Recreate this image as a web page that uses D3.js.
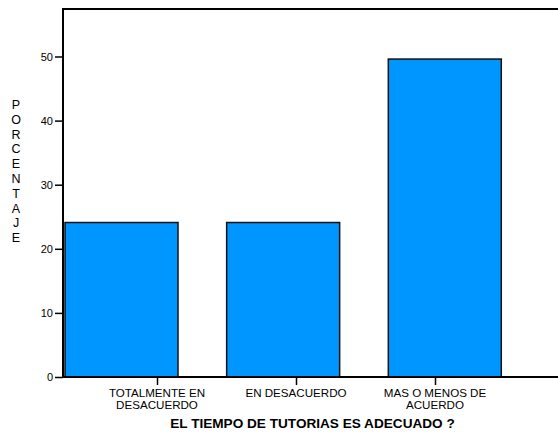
<!DOCTYPE html>
<html><head><meta charset="utf-8">
<script src="https://cdn.jsdelivr.net/npm/d3@7/dist/d3.min.js"></script>
<style>body{margin:0;background:#fff}svg{display:block}text{font-family:"Liberation Sans",Arial,sans-serif}</style>
</head><body><svg id="c" width="558" height="432"></svg>
<script>
const categories = ["TOTALMENTE EN DESACUERDO", "EN DESACUERDO", "MAS O MENOS DE ACUERDO"];
const labelLines = [["TOTALMENTE EN", "DESACUERDO"], ["EN DESACUERDO"], ["MAS O MENOS DE", "ACUERDO"]];
const values = [24.1, 24.1, 49.6];
const yTicks = [0, 10, 20, 30, 40, 50];
const yTitle = "PORCENTAJE";
const xTitle = "EL TIEMPO DE TUTORIAS ES ADECUADO ?";

const svg = d3.select("#c");
const L = 63, R = 558, T = 9, B = 377;
const y = d3.scaleLinear().domain([0, 10]).range([B, B - 64.1]);
const xb = d3.scaleBand().domain(categories).range([65, 501.3]).paddingInner(0.301).paddingOuter(0);
const xp = d3.scalePoint().domain(categories).range([157, 435]);

// bars
svg.selectAll("rect.bar").data(values).enter().append("rect")
  .attr("x", (d, i) => xb(categories[i]))
  .attr("y", d => y(d))
  .attr("width", xb.bandwidth())
  .attr("height", d => y(0) - y(d))
  .attr("fill", "#0096ff").attr("stroke", "#111").attr("stroke-width", 1.5);

// frame
svg.append("line").attr("x1", L).attr("x2", R).attr("y1", T).attr("y2", T).attr("stroke", "#000").attr("stroke-width", 2);
svg.append("line").attr("x1", L).attr("x2", L).attr("y1", T - 1).attr("y2", B + 1).attr("stroke", "#000").attr("stroke-width", 2);
svg.append("line").attr("x1", L - 1).attr("x2", R).attr("y1", B).attr("y2", B).attr("stroke", "#000").attr("stroke-width", 2);

// y axis
const ya = svg.append("g").attr("transform", `translate(${L},0)`)
  .call(d3.axisLeft(y).tickValues(yTicks).tickSize(8).tickPadding(2).tickFormat(d3.format("d")));
ya.select(".domain").remove();
ya.selectAll("line").attr("stroke", "#000").attr("stroke-width", 1.5);
ya.selectAll("text").attr("font-size", 11).attr("fill", "#000").style("font-family", '"Liberation Sans",Arial,sans-serif');

// x axis
const xa = svg.append("g").attr("transform", `translate(0,${B})`)
  .call(d3.axisBottom(xp).tickSize(8).tickFormat(""));
xa.select(".domain").remove();
xa.selectAll("line").attr("stroke", "#000").attr("stroke-width", 1.5);

// category labels (one text per line)
categories.forEach((c, i) => {
  labelLines[i].forEach((ln, j) => {
    svg.append("text").attr("x", xp(c)).attr("y", 397 + j * 12.3).attr("text-anchor", "middle")
      .attr("font-size", 11.6).attr("fill", "#000").text(ln);
  });
});

// y title vertical letters
yTitle.split("").forEach((ch, i) => {
  svg.append("text").attr("x", 16).attr("y", 109 + i * 14.8).attr("text-anchor", "middle")
    .attr("font-size", 12.5).attr("fill", "#000").text(ch);
});

// x title
svg.append("text").attr("x", 312.5).attr("y", 428.3).attr("text-anchor", "middle")
  .attr("font-size", 13.6).attr("font-weight", "bold").attr("fill", "#000").text(xTitle);
</script></body></html>
